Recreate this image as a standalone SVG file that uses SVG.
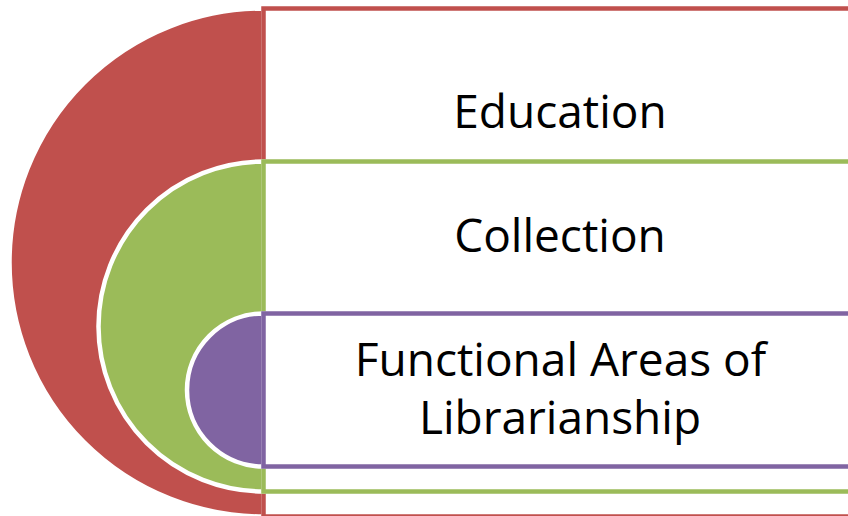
<svg xmlns="http://www.w3.org/2000/svg" width="848" height="516" viewBox="0 0 848 516">
<style>
.disc{stroke:#ffffff;stroke-width:4.5}
.box{fill:#ffffff;stroke-width:4.5}
.red{fill:#C0504D}
.green{fill:#9BBB59}
.purple{fill:#8064A2}
.lbl{font-family:"Open Sans","Liberation Sans",sans-serif;font-size:46px;fill:#000000;text-anchor:middle}
</style>
<rect width="848" height="516" fill="#ffffff"/>
<g id="node-education">
<path class="disc red" d="M263.5,8.5 A254,254 0 0 0 263.5,516.5 Z"/>
<rect class="box" x="263.5" y="8.5" width="600" height="508" stroke="#C0504D"/>
<text class="lbl" x="560" y="128">Education</text>
</g>
<g id="node-collection">
<path class="disc green" d="M263.5,161.5 A165,165 0 0 0 263.5,491.5 Z"/>
<rect class="box" x="263.5" y="161.5" width="600" height="330" stroke="#9BBB59"/>
<text class="lbl" x="560" y="251.5">Collection</text>
</g>
<g id="node-functional">
<path class="disc purple" d="M263.5,313.5 A76.5,76.5 0 0 0 263.5,466.5 Z"/>
<rect class="box" x="263.5" y="313.5" width="600" height="153" stroke="#8064A2"/>
<text class="lbl" x="560.5" y="375.5">Functional Areas of</text>
<text class="lbl" x="560" y="433.5">Librarianship</text>
</g>
<g id="connectors"/>
</svg>
